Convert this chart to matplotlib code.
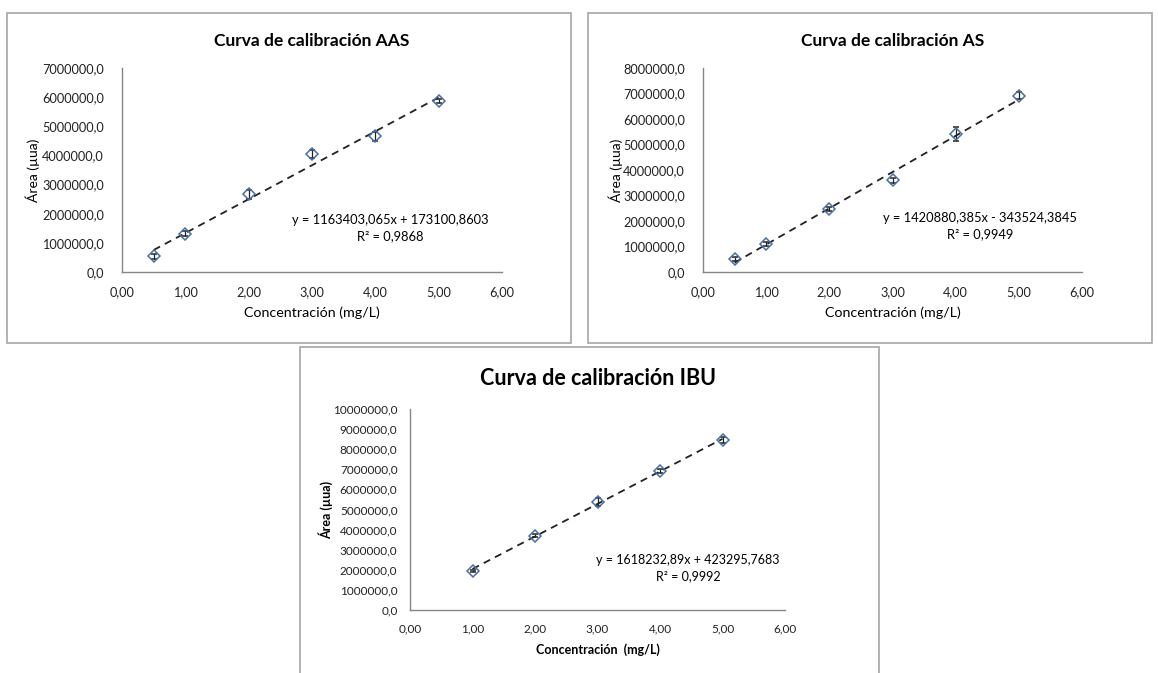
import matplotlib; matplotlib.use('Agg')
import matplotlib.pyplot as plt
from matplotlib.patches import Rectangle
from matplotlib.ticker import FuncFormatter, MultipleLocator
import numpy as np

plt.rcParams['font.family'] = ['Lato', 'DejaVu Sans']

# --- data ---
aas_x = [0.5, 1, 2, 3, 4, 5]
aas_y = [540000, 1320000, 2660000, 4050000, 4650000, 5880000]
aas_err = [90000, 100000, 150000, 130000, 150000, 70000]
aas_fit = (1163403.065, 173100.8603)

as_x = [0.5, 1, 2, 3, 4, 5]
as_y = [500000, 1090000, 2470000, 3590000, 5400000, 6920000]
as_err = [80000, 70000, 70000, 100000, 280000, 150000]
as_fit = (1420880.385, -343524.3845)

ibu_x = [1, 2, 3, 4, 5]
ibu_y = [1940000, 3700000, 5370000, 6930000, 8470000]
ibu_err = [60000, 70000, 220000, 90000, 140000]
ibu_fit = (1618232.89, 423295.7683)

W, H = 1158, 673
fig = plt.figure(figsize=(W / 100, H / 100), dpi=100)

def box(x0, y0, x1, y1):
    fig.patches.append(Rectangle((x0 / W, 1 - y1 / H), (x1 - x0) / W, (y1 - y0) / H,
                                 transform=fig.transFigure, fill=False, ec='#a6a6a6', lw=1.2))

def axes_px(l, t, r, b):
    return fig.add_axes([l / W, 1 - b / H, (r - l) / W, (b - t) / H])

yfmt = FuncFormatter(lambda v, p: f"{v:.1f}".replace('.', ','))
xfmt = FuncFormatter(lambda v, p: f"{v:.2f}".replace('.', ','))

def panel(ax, xs, ys, err, fit, ymax, title, tsize, eq, r2, tx, ty, ylx, bold=False, fs=9.2):
    a, b = fit
    xx = np.array([min(xs), max(xs)])
    ax.plot(xx, a * xx + b, ls=(0, (4, 3)), color='#222222', lw=1.3, zorder=2)
    ax.errorbar(xs, ys, yerr=err, fmt='D', ms=6, mfc='none', mec='#4a6fa5', mew=1.1,
                ecolor='#222222', elinewidth=0.9, capsize=2.5, capthick=0.9, zorder=3)
    ax.set_xlim(0, 6); ax.set_ylim(0, ymax)
    ax.xaxis.set_major_locator(MultipleLocator(1))
    ax.yaxis.set_major_locator(MultipleLocator(1000000))
    ax.xaxis.set_major_formatter(xfmt); ax.yaxis.set_major_formatter(yfmt)
    for s in ['top', 'right']:
        ax.spines[s].set_visible(False)
    for s in ['left', 'bottom']:
        ax.spines[s].set_color('#868686'); ax.spines[s].set_linewidth(1.0)
    ax.tick_params(length=0, labelsize=fs, colors='#222222')
    ax.tick_params(axis='y', pad=13 if not bold else 9)
    ax.tick_params(axis='x', pad=10)
    w = 'bold' if bold else 'normal'
    ax.set_title(title, fontsize=tsize, weight='bold', pad=16 if not bold else 17)
    ax.set_ylabel('Área (µua)', fontsize=10 if not bold else 9, weight=w)
    ax.yaxis.set_label_coords(ylx, 0.5)
    ax.set_xlabel('Concentración  (mg/L)' if bold else 'Concentración (mg/L)',
                  fontsize=10.3 if not bold else 9, weight=w, labelpad=6)
    ax.text(tx, ty, eq + '\n' + r2, transform=ax.transAxes, ha='center', va='center',
            fontsize=9.3 if not bold else 9, linespacing=1.45)
    ax.set_facecolor('none')

box(7, 13, 571, 343)
box(588, 13, 1152, 343)
box(300, 347, 879, 680)

ax1 = axes_px(122, 68, 502, 272)
panel(ax1, aas_x, aas_y, aas_err, aas_fit, 7000000, 'Curva de calibración AAS', 12.5,
      'y = 1163403,065x + 173100,8603', 'R² = 0,9868', 0.705, 0.215, -0.215)

ax2 = axes_px(703, 68, 1082, 272)
panel(ax2, as_x, as_y, as_err, as_fit, 8000000, 'Curva de calibración AS', 12.5,
      'y = 1420880,385x - 343524,3845', 'R² = 0,9949', 0.73, 0.225, -0.21)

ax3 = axes_px(410, 409, 785, 610)
panel(ax3, ibu_x, ibu_y, ibu_err, ibu_fit, 10000000, 'Curva de calibración IBU', 15.5,
      'y = 1618232,89x + 423295,7683', 'R² = 0,9992', 0.741, 0.21, -0.205, bold=True, fs=8.5)

fig.savefig('out.png', dpi=100)
